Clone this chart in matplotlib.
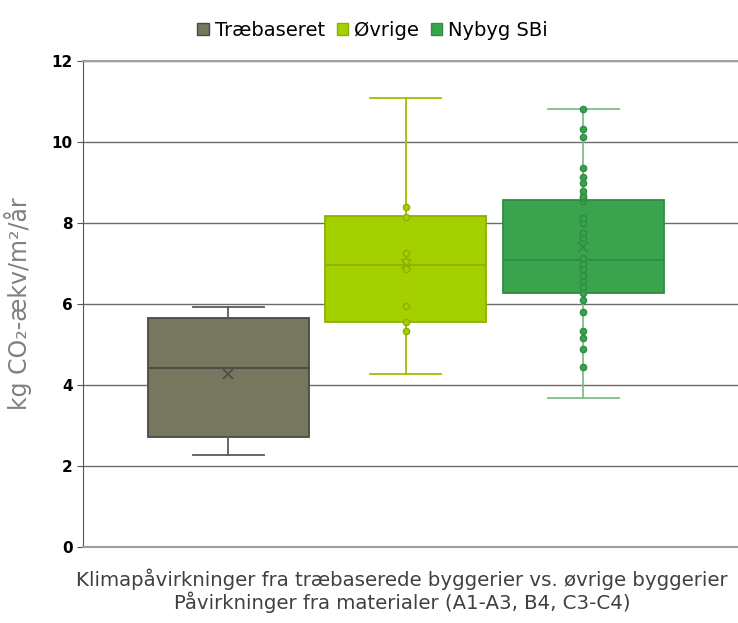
import matplotlib.pyplot as plt

groups = ['Træbaseret', 'Øvrige', 'Nybyg SBi']
face_colors = ['#77765f', '#a5d000', '#3aa34e']
edge_colors = ['#4a4a44', '#8db000', '#2f8c42']
whisker_colors = ['#5a5a5a', '#99c200', '#7fbf8c']

# box statistics
q1 = [2.72, 5.56, 6.27]
med = [4.42, 6.96, 7.09]
q3 = [5.65, 8.17, 8.57]
wlo = [2.27, 4.27, 3.68]
whi = [5.93, 11.08, 10.82]
means = [4.27, 6.99, 7.41]

# individual points shown (Træbaseret shows none)
pts_trae = []
pts_ovrige = [5.33, 5.55, 5.94, 6.87, 7.06, 7.27, 8.16, 8.39]
pts_nybyg = [4.44, 4.88, 5.15, 5.33, 5.81, 6.10, 6.28, 6.43, 6.58,
             6.72, 6.86, 7.00, 7.13, 7.63, 7.76, 7.99, 8.13, 8.54, 8.62,
             8.67, 8.80, 8.99, 9.14, 9.37, 10.12, 10.33, 10.82]
points = [pts_trae, pts_ovrige, pts_nybyg]

fig = plt.figure(figsize=(7.38, 6.23), dpi=100)
ax = fig.add_axes([0.1125, 0.122, 0.8875, 0.780])

stats = []
for i in range(3):
    stats.append(dict(label=groups[i], q1=q1[i], med=med[i], q3=q3[i],
                      whislo=wlo[i], whishi=whi[i], mean=means[i], fliers=[]))

pos = [1, 2, 3]
for i in range(3):
    ax.bxp([stats[i]], positions=[pos[i]], widths=0.907, patch_artist=True,
           showmeans=True, showfliers=False,
           boxprops=dict(facecolor=face_colors[i], edgecolor=edge_colors[i], linewidth=1.3),
           medianprops=dict(color=edge_colors[i], linewidth=1.3),
           whiskerprops=dict(color=whisker_colors[i], linewidth=1.3),
           capprops=dict(color=whisker_colors[i], linewidth=1.3),
           capwidths=0.4,
           meanprops=dict(marker='x', markeredgecolor=edge_colors[i], markersize=7,
                          markeredgewidth=1.2),
           manage_ticks=False, zorder=2)
    if points[i]:
        ax.plot([pos[i]] * len(points[i]), points[i], 'o', ls='none',
                markersize=4.5, markerfacecolor=face_colors[i],
                markeredgecolor=edge_colors[i], markeredgewidth=1.0, zorder=3)

ax.set_ylim(0, 12)
ax.set_xlim(0.183, 3.87)
ax.set_yticks(range(0, 13, 2))
ax.set_xticks([])
ax.yaxis.grid(True, color='#6b6b6b', linewidth=1.0)
ax.set_axisbelow(True)
ax.spines['right'].set_visible(False)
ax.spines['top'].set_color('#a0a0a0')
ax.spines['top'].set_linewidth(1.5)
ax.spines['left'].set_color('#555555')
ax.spines['bottom'].set_color('#a0a0a0')
ax.spines['bottom'].set_linewidth(1.5)
ax.tick_params(axis='y', length=4, color='#555555', labelsize=11)
for lab in ax.get_yticklabels():
    lab.set_fontweight('bold')

ax.set_ylabel('kg CO₂-ækv/m²/år', fontsize=17, color='#808080', labelpad=14)
ax.set_xlabel('Klimapåvirkninger fra træbaserede byggerier vs. øvrige byggerier\n'
              'Påvirkninger fra materialer (A1-A3, B4, C3-C4)',
              fontsize=14.2, color='#404040', linespacing=1.05)
ax.xaxis.set_label_coords(0.487, -0.045)
ax.xaxis.label.set_va('top')

handles = [plt.Rectangle((0, 0), 1, 1, facecolor=face_colors[i], edgecolor=edge_colors[i])
           for i in range(3)]
fig.legend(handles, groups, loc='upper center', bbox_to_anchor=(0.505, 0.995), ncol=3,
           frameon=False, fontsize=14, handlelength=0.6, handleheight=0.6,
           handletextpad=0.3, columnspacing=0.6)

fig.savefig('out.png', dpi=100)
